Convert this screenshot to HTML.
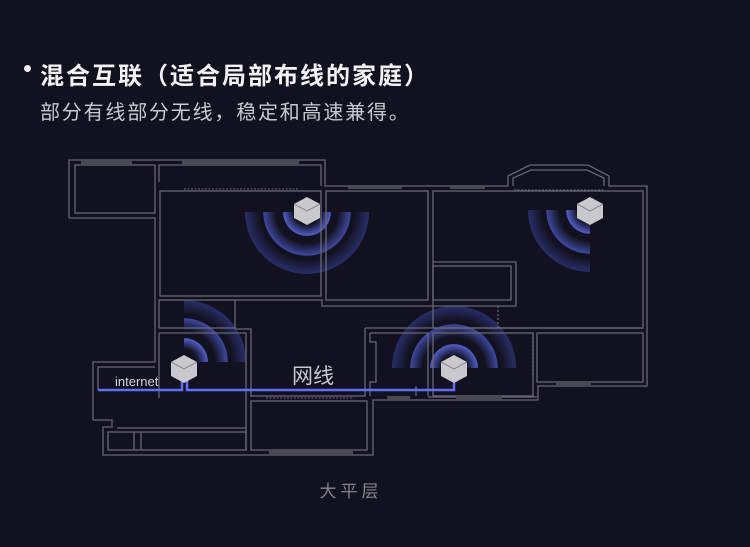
<!DOCTYPE html>
<html><head><meta charset="utf-8"><style>
body{margin:0;background:#12111f;width:750px;height:547px;overflow:hidden;font-family:"Liberation Sans","Noto Sans CJK SC",sans-serif}
.t{position:absolute;left:40px;top:56px;font-size:24px;font-weight:bold;color:#f2f2f5;letter-spacing:2px}
.d{position:absolute;left:24px;top:65px;width:7px;height:7px;border-radius:50%;background:#f2f2f5}
.s{position:absolute;left:40px;top:96px;font-size:20px;color:#c9c9d0;letter-spacing:1.8px}
svg{position:absolute;left:0;top:0}
</style></head><body>
<div class="d"></div>
<div class="t">混合互联（适合局部布线的家庭）</div>
<div class="s">部分有线部分无线，稳定和高速兼得。</div>
<svg width="750" height="547" viewBox="0 0 750 547">
<defs>
<radialGradient id="w" gradientUnits="userSpaceOnUse" cx="0" cy="0" r="62">
<stop offset="0" stop-color="#5b6cf0" stop-opacity="0"/>
<stop offset="0.2" stop-color="#5b6cf0" stop-opacity="0"/>
<stop offset="0.38" stop-color="#6677ff" stop-opacity="0.75"/>
<stop offset="0.39" stop-color="#5b6cf0" stop-opacity="0"/>
<stop offset="0.5" stop-color="#5b6cf0" stop-opacity="0"/>
<stop offset="0.7" stop-color="#5b6cf0" stop-opacity="0.6"/>
<stop offset="0.71" stop-color="#5b6cf0" stop-opacity="0"/>
<stop offset="0.76" stop-color="#4a5ad8" stop-opacity="0"/>
<stop offset="1" stop-color="#4a5ad8" stop-opacity="0.4"/>
</radialGradient>
<g id="cube">
<polygon points="0,-13 13,-6 13,8 0,15 -13,8 -13,-6" fill="#c9c8cd"/>
<polyline points="-13,-6 0,1 13,-6" fill="none" stroke="#7a7982" stroke-width="0.8"/>
</g>
</defs>
<g transform="translate(307,212)"><path d="M-62,0 A62,62 0 0 0 62,0 Z" fill="url(#w)"/></g>
<g transform="translate(590,210)"><path d="M0,0 L-62,0 A62,62 0 0 0 0,62 Z" fill="url(#w)"/></g>
<g transform="translate(184,362)"><path d="M0,0 L0,-62 A62,62 0 0 1 62,0 Z" fill="url(#w)"/></g>
<g transform="translate(454,368)"><path d="M-62,0 A62,62 0 0 1 62,0 Z" fill="url(#w)"/></g>
<g fill="none" stroke="#686775" stroke-width="1.3">
<polyline points="69,218 69,160 325,160 325,186 508,186 508,176 530,165 588,165 609,176 609,186 647,186 647,386 538,386 538,400 373,400 373,455 103,455 103,427 112,427 112,420 93,420 93,362 155,362 155,218 69,218"/>
<rect x="75" y="165" width="80" height="48"/>
<polyline points="513,186 513,178 531,170 587,170 604,178 604,186"/>
<polyline points="159,182 159,165 321,165 321,186"/>
<rect x="160" y="191" width="161" height="105"/>
<rect x="326" y="191" width="102" height="109"/>
<rect x="433" y="191" width="210" height="137"/>
<polyline points="433,262 516,262 516,306 322,306 322,300 235,300"/>
<rect x="433" y="266" width="78" height="34"/>
<rect x="159" y="300" width="76" height="28"/>
<polyline points="159,333 246,333 246,450"/>
<polyline points="235,329 251,329 251,397"/>
<polyline points="159,333 159,398"/>
<polyline points="98,390 98,367 155,367"/>
<polyline points="365,328 643,328"/>
<polyline points="365,328 365,396 251,396"/>
<polyline points="370,333 428,333 428,396"/>
<polyline points="370,333 370,342 376,342 376,382 370,382 370,396"/>
<rect x="433" y="333" width="100" height="63"/>
<rect x="537" y="333" width="106" height="49"/>
<line x1="428" y1="397" x2="537" y2="397"/>
<rect x="108" y="432" width="138" height="18"/>
<line x1="117" y1="428" x2="246" y2="428"/>
<line x1="134" y1="432" x2="134" y2="450"/>
<line x1="141" y1="432" x2="141" y2="450"/>
<rect x="251" y="401" width="116" height="49"/>
<line x1="416" y1="386" x2="416" y2="396"/>
<line x1="498" y1="306" x2="498" y2="328" stroke-dasharray="2,2"/>
<line x1="533" y1="333" x2="533" y2="382" stroke-dasharray="2,2"/>
</g>
<g stroke="#686775" stroke-width="1" stroke-dasharray="2,1.5">
<line x1="184" y1="189" x2="298" y2="189"/>
<line x1="266" y1="398" x2="354" y2="398"/>
<line x1="514" y1="190" x2="603" y2="190"/>
</g>
<g stroke="#4a4956" stroke-width="4">
<line x1="81" y1="162" x2="132" y2="162"/>
<line x1="182" y1="162" x2="299" y2="162"/>
<line x1="348" y1="187" x2="402" y2="187"/>
<line x1="450" y1="187" x2="485" y2="187"/>
<line x1="556" y1="383" x2="591" y2="383"/>
<line x1="387" y1="398" x2="410" y2="398"/>
<line x1="456" y1="398" x2="502" y2="398"/>
<line x1="269" y1="453" x2="353" y2="453"/>
</g>
<polyline points="98,390 182,390 182,380" fill="none" stroke="#5f70f5" stroke-width="2.5"/>
<polyline points="187,380 187,390 454,390 454,380" fill="none" stroke="#5f70f5" stroke-width="2.5"/>
<use href="#cube" x="307" y="210"/>
<use href="#cube" x="590" y="210"/>
<use href="#cube" x="184" y="368"/>
<use href="#cube" x="454" y="368"/>
<text x="115" y="386" font-size="13" fill="#d4d4dc" font-family="Liberation Sans,sans-serif">internet</text>
<text x="292" y="383" font-size="21" fill="#c8c8d0" font-family="Liberation Sans,Noto Sans CJK SC,sans-serif">网线</text>
<text x="351" y="497" font-size="17" fill="#85848f" text-anchor="middle" letter-spacing="4" font-family="Liberation Sans,Noto Sans CJK SC,sans-serif">大平层</text>
</svg>
</body></html>
